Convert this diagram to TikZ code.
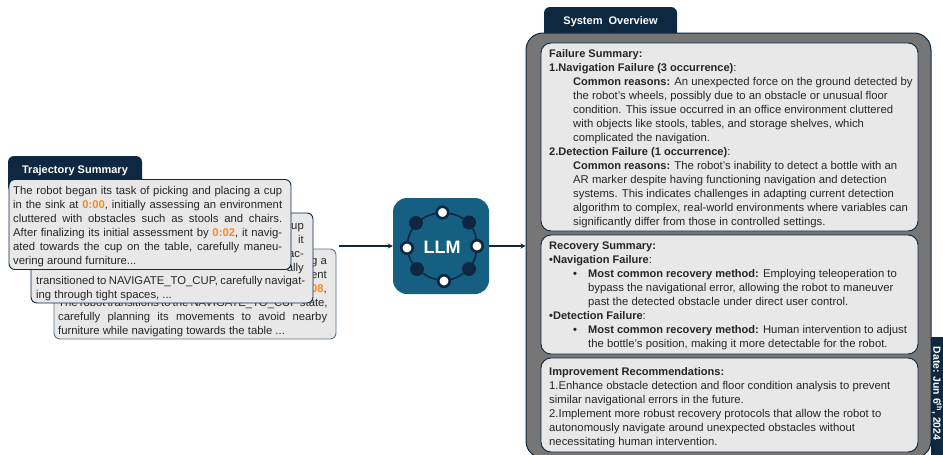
\documentclass[tikz,border=0pt]{standalone}
\usepackage{fontspec}
\setmainfont{Liberation Sans}
\usetikzlibrary{arrows.meta}
\definecolor{navy}{HTML}{0E2841}
\definecolor{teal1}{HTML}{156082}
\definecolor{panelgray}{HTML}{767676}
\definecolor{cardfill}{HTML}{E8E8E8}
\definecolor{slate}{HTML}{5F7489}
\definecolor{ink}{HTML}{262626}
\definecolor{hot}{HTML}{F98B1D}
\newcommand{\hl}[1]{\textcolor{hot}{\textbf{#1}}}
\newcommand{\jl}[1]{\makebox[269pt][s]{#1}}
\newcommand{\firstln}{\rule{0pt}{10pt}}
\newcommand{\bx}[1]{{\fontsize{11.05}{14}\selectfont\bfseries #1}}
\tikzset{
  x=1pt,y=-1pt,
  tabbox/.style={fill=navy,rounded corners=6pt,inner sep=0pt},
  tablabel/.style={inner sep=0pt,text=white,font=\fontsize{11}{12}\selectfont\bfseries},
  card/.style={draw=navy,line width=0.9pt,fill=cardfill,rounded corners=6pt,inner sep=0pt},
  inner box/.style={draw=navy,line width=0.9pt,fill=cardfill,rounded corners=10pt,inner sep=0pt},
  txt/.style={anchor=north west,inner sep=0pt,align=left,text=ink,yshift=-0.7pt,font=\fontsize{11.3}{14}\selectfont},
  ltxt/.style={anchor=north west,inner sep=0pt,align=left,text=ink,yshift=-0.7pt,font=\fontsize{11.3}{14}\selectfont},
  frag/.style={anchor=north east,inner sep=0pt,align=right,text=ink,yshift=-0.7pt,font=\fontsize{11.3}{14}\selectfont},
  ringdark/.style={circle,fill=navy,inner sep=0pt,minimum size=14pt},
  ringwhite/.style={circle,fill=white,draw=navy,line width=2.6pt,inner sep=0pt,minimum size=11.5pt},
  ringedge/.style={draw=navy,line width=1.7pt},
  arr/.style={draw=navy,line width=1.2pt,-{Stealth[length=5pt,width=5pt]}},
}
\begin{document}
\begin{tikzpicture}
\useasboundingbox (0,0) rectangle (943,455);
\clip (0,0) rectangle (943,455);
% left stack
\node[tabbox,minimum width=134pt,minimum height=36pt] (ttab) at (75,174) {};
\node[tablabel] (ttablabel) at (75,171) {Trajectory Summary};
\node[card,draw=slate,minimum width=282pt,minimum height=90pt] (c3) at (195,294) {};
\node[frag] (c3a) at (327,253.5) {\firstln g a\\ent\\\hl{08},};
\node[ltxt] (c3b) at (58,295.5) {\firstln\jl{The robot transitions to the NAVIGATE\_TO\_CUP state,}\\
\jl{carefully planning its movements to avoid nearby}\\furniture while navigating towards the table ...};
\node[card,minimum width=282pt,minimum height=90pt] (c2) at (172,258) {};
\node[frag] (c2a) at (304,218.5) {\firstln up\\it\\ac-\\ally};
\node[ltxt] (c2b) at (36,273.5) {\firstln\jl{transitioned to NAVIGATE\_TO\_CUP, carefully navigat-}\\ing through tight spaces, ...};
\node[card,minimum width=282pt,minimum height=90pt] (c1) at (150,224.5) {};
\node[ltxt] (c1t) at (13,183.5) {\firstln\jl{The robot began its task of picking and placing a cup}\\
\jl{in the sink at \hl{0:00}, initially assessing an environment}\\
\jl{cluttered with obstacles such as stools and chairs.}\\
\jl{After finalizing its initial assessment by \hl{0:02}, it navig-}\\
\jl{ated towards the cup on the table, carefully maneu-}\\
vering around furniture...};
% LLM block
\node[fill=teal1,rounded corners=14pt,minimum size=96pt,inner sep=0pt] (llm) at (441,246) {};
\node[inner sep=0pt,text=white,font=\fontsize{18}{20}\selectfont\bfseries] (llmt) at (442,247) {LLM};
\node[ringwhite] (r1) at (442.5,212.5) {};
\node[ringdark] (r2) at (469,222.5) {};
\node[ringwhite] (r3) at (477,246) {};
\node[ringdark] (r4) at (469,269) {};
\node[ringwhite] (r5) at (444,281) {};
\node[ringdark] (r6) at (417,269) {};
\node[ringwhite] (r7) at (407,248) {};
\node[ringdark] (r8) at (416,223) {};
\foreach \a/\b in {r1/r2,r2/r3,r3/r4,r4/r5,r5/r6,r6/r7,r7/r8,r8/r1}
  \draw[ringedge] (\a) to[bend left=12] (\b);
% right panel
\node[tabbox,minimum width=133pt,minimum height=40pt] (stab) at (610.5,27) {};
\node[tablabel] (stablabel) at (610.5,22) {System\ \ Overview};
\node[fill=panelgray,draw=navy,line width=1pt,rounded corners=17pt,minimum width=405pt,minimum height=425pt,inner sep=0pt] (panel) at (728.5,245.5) {};
\node[fill=navy,minimum width=12pt,minimum height=118pt,inner sep=0pt] (dtab) at (937,396) {};
\node[rotate=-90,inner sep=0pt,text=white,font=\fontsize{10.4}{11}\selectfont\bfseries] (dtabt) at (937,393.5) {Date: Jun 6\textsuperscript{th}, 2024};
\node[inner box,minimum width=377pt,minimum height=188pt] (b1) at (729.5,137) {};
\node[inner box,minimum width=377pt,minimum height=119pt] (b2) at (729.5,294.5) {};
\node[inner box,minimum width=377pt,minimum height=94pt] (b3) at (729.5,405) {};
\node[txt] (b1a) at (549,46.5) {\firstln\bx{Failure Summary:}\\\bx{1.Navigation Failure (3 occurrence)}:};
\node[txt] (b1b) at (573,74.5) {\firstln\bx{Common reasons:} An unexpected force on the ground detected by\\
the robot's wheels, possibly due to an obstacle or unusual floor\\
condition. This issue occurred in an office environment cluttered\\
with objects like stools, tables, and storage shelves, which\\
complicated the navigation.};
\node[txt] (b1c) at (549,144.5) {\firstln\bx{2.Detection Failure (1 occurrence)}:};
\node[txt] (b1d) at (573,159) {\firstln\bx{Common reasons:} The robot's inability to detect a bottle with an\\
AR marker despite having functioning navigation and detection\\
systems. This indicates challenges in adapting current detection\\
algorithm to complex, real-world environments where variables can\\
significantly differ from those in controlled settings.};
\node[txt] (b2a) at (549,238.5) {\firstln\bx{Recovery Summary:}\\\bx{•Navigation Failure}:};
\node[txt] (b2d1) at (573,266.5) {\firstln\bx{•}};
\node[txt] (b2b) at (588,266.5) {\firstln\bx{Most common recovery method:} Employing teleoperation to\\
bypass the navigational error, allowing the robot to maneuver\\
past the detected obstacle under direct user control.};
\node[txt] (b2c) at (549,308.5) {\firstln\bx{•Detection Failure}:};
\node[txt] (b2d2) at (573,322.5) {\firstln\bx{•}};
\node[txt] (b2e) at (588,322.5) {\firstln\bx{Most common recovery method:} Human intervention to adjust\\
the bottle's position, making it more detectable for the robot.};
\node[txt] (b3a) at (549,364.5) {\firstln\bx{Improvement Recommendations:}\\
1.Enhance obstacle detection and floor condition analysis to prevent\\
similar navigational errors in the future.\\
2.Implement more robust recovery protocols that allow the robot to\\
autonomously navigate around unexpected obstacles without\\
necessitating human intervention.};
% connectors
\coordinate (in) at (339,246);
\draw[arr] (in) -- (llm.west |- in);
\draw[arr] (llm.east) -- (llm.east -| panel.west);
\end{tikzpicture}
\end{document}
